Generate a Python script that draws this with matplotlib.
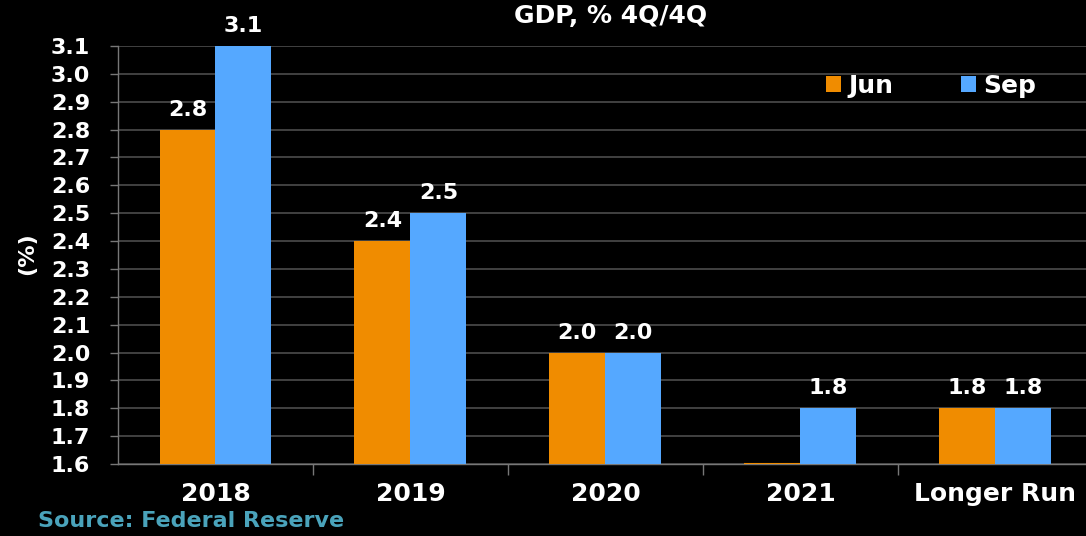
import numpy as np
import matplotlib.pyplot as plt
from matplotlib.ticker import FixedLocator

categories = ["2018", "2019", "2020", "2021", "Longer Run"]
jun = [2.8, 2.4, 2.0, 1.6, 1.8]   # 2021 not projected in June, shown as flat line
sep = [3.1, 2.5, 2.0, 1.8, 1.8]
yticks = [1.6, 1.7, 1.8, 1.9, 2.0, 2.1, 2.2, 2.3, 2.4, 2.5, 2.6, 2.7, 2.8, 2.9, 3.0, 3.1]

plt.rcParams['font.family'] = ['DejaVu Sans']
plt.rcParams['font.weight'] = 'bold'

orange = "#f08c00"
blue = "#55a8ff"

fig = plt.figure(figsize=(10.86, 5.36), dpi=100, facecolor="black")
ax = fig.add_axes([118/1086, 1 - 464/536, 1 - 118/1086, (464 - 46)/536], facecolor="black")

x = np.arange(len(categories))
w = 0.287
b1 = ax.bar(x - w/2, jun, w, color=orange, linewidth=0, zorder=3)
b2 = ax.bar(x + w/2, sep, w, color=blue, linewidth=0, zorder=3)
# flat 2021 Jun line
ax.hlines(jun[3], x[3] - w, x[3], color=orange, lw=1.5, zorder=4)

for xi, v in zip(x - w/2, jun):
    if v > 1.6:
        ax.annotate(f"{v:.1f}", (xi, v), xytext=(0, 10), textcoords="offset points",
                    ha="center", va="baseline", color="white", fontsize=16, fontweight="bold")
for xi, v in zip(x + w/2, sep):
    ax.annotate(f"{v:.1f}", (xi, v), xytext=(0, 10), textcoords="offset points",
                ha="center", va="baseline", color="white", fontsize=16, fontweight="bold")

ax.set_ylim(1.6, 3.1)
ax.set_xlim(-0.5, 4.465)
ax.set_yticks(yticks)
ax.set_yticklabels([f"{t:.1f}" for t in yticks], color="white", fontsize=16, fontweight="bold")
ax.yaxis.grid(True, color="#4c4c4c", lw=1.2, zorder=0)
ax.tick_params(axis="y", colors="#777777", length=6, width=1, labelcolor="white", pad=14)

ax.set_xticks(x)
ax.set_xticklabels(categories, color="white", fontsize=18, fontweight="bold")
ax.tick_params(axis="x", length=0, pad=13, labelcolor="white")
ax.xaxis.set_minor_locator(FixedLocator(x[:-1] + 0.5))
ax.tick_params(axis="x", which="minor", length=8, width=1, colors="#777777", direction="out")

for s in ["top", "right"]:
    ax.spines[s].set_visible(False)
for s in ["left", "bottom"]:
    ax.spines[s].set_color("#777777")
    ax.spines[s].set_linewidth(1)

fig.text(27/1086, 1 - 254/536, "(%)", color="white", fontsize=16, fontweight="bold",
         rotation=90, ha="center", va="center")

leg = fig.legend([b1, b2], ["Jun", "Sep"], loc="center left",
                 bbox_to_anchor=(826/1086, 1 - 86/536), bbox_transform=fig.transFigure,
                 ncol=2, frameon=False, fontsize=18, handlelength=0.6, handleheight=0.6,
                 columnspacing=2.7, handletextpad=0.3, borderpad=0, borderaxespad=0)
for t in leg.get_texts():
    t.set_color("white")
    t.set_fontweight("bold")

fig.text(611/1086, 1 - 16/536, "GDP, % 4Q/4Q", color="white", fontsize=18,
         fontweight="bold", ha="center", va="center")
fig.text(38/1086, 1 - 521/536, "Source: Federal Reserve", color="#4aa3bb", fontsize=16,
         fontweight="bold", ha="left", va="center")

fig.savefig("out.png", dpi=100, facecolor="black")
